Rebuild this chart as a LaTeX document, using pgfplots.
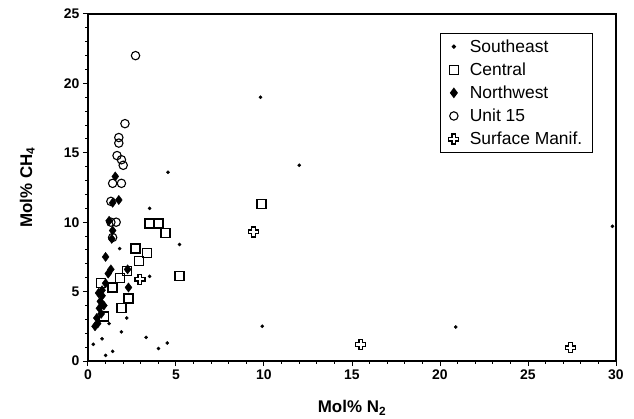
\documentclass[border=0pt]{standalone}
\usepackage{fontspec}
\setmainfont{Liberation Sans}
\usepackage{pgfplots}
\pgfplotsset{compat=1.18}

\pgfdeclareplotmark{oplus}{%
  \pgfpathmoveto{\pgfqpoint{-0.38\pgfplotmarksize}{\pgfplotmarksize}}%
  \pgfpathlineto{\pgfqpoint{0.38\pgfplotmarksize}{\pgfplotmarksize}}%
  \pgfpathlineto{\pgfqpoint{0.38\pgfplotmarksize}{0.38\pgfplotmarksize}}%
  \pgfpathlineto{\pgfqpoint{\pgfplotmarksize}{0.38\pgfplotmarksize}}%
  \pgfpathlineto{\pgfqpoint{\pgfplotmarksize}{-0.38\pgfplotmarksize}}%
  \pgfpathlineto{\pgfqpoint{0.38\pgfplotmarksize}{-0.38\pgfplotmarksize}}%
  \pgfpathlineto{\pgfqpoint{0.38\pgfplotmarksize}{-\pgfplotmarksize}}%
  \pgfpathlineto{\pgfqpoint{-0.38\pgfplotmarksize}{-\pgfplotmarksize}}%
  \pgfpathlineto{\pgfqpoint{-0.38\pgfplotmarksize}{-0.38\pgfplotmarksize}}%
  \pgfpathlineto{\pgfqpoint{-\pgfplotmarksize}{-0.38\pgfplotmarksize}}%
  \pgfpathlineto{\pgfqpoint{-\pgfplotmarksize}{0.38\pgfplotmarksize}}%
  \pgfpathlineto{\pgfqpoint{-0.38\pgfplotmarksize}{0.38\pgfplotmarksize}}%
  \pgfpathclose
  \pgfusepathqstroke
}

\begin{document}
\begin{tikzpicture}
\begin{axis}[
  scale only axis, width=528bp, height=347bp,
  xmin=0, xmax=30, ymin=0, ymax=25,
  xtick={0,5,...,30}, ytick={0,5,...,25},
  minor x tick num=4, minor y tick num=4,
  tick align=outside, xtick pos=bottom, ytick pos=left,
  major tick length=5bp, minor tick length=2.5bp,
  axis line style={line width=1.2bp},
  tick style={line width=1bp, black},
  /pgf/number format/assume math mode=true,
  xticklabel={\bfseries\pgfmathprintnumber{\tick}},
  yticklabel={\bfseries\pgfmathprintnumber{\tick}},
  ticklabel style={font=\fontsize{14}{16}\selectfont\bfseries},
  xlabel={Mol\% N\textsubscript{2}},
  ylabel={Mol\% CH\textsubscript{4}},
  label style={font=\fontsize{17}{20}\selectfont\bfseries},
  xlabel style={at={(axis description cs:0.5,0)}, yshift=-47bp, anchor=center},
  ylabel style={at={(axis description cs:-0.115,0.5)}, anchor=center},
  legend style={at={(0.956,0.945)}, anchor=north east, draw=black, line width=1bp,
    font=\fontsize{17.5}{20}\selectfont, row sep=5bp, inner xsep=8bp, inner ysep=4bp,
    /tikz/every odd column/.append style={column sep=9bp}},
  legend cell align=left,
]
% Southeast
\addplot[only marks, mark=*, mark size=1.6bp, black] coordinates {
(0.3,1.2) (0.8,1.6) (1.0,0.4) (1.4,0.7) (1.2,2.7) (1.9,2.1) (2.2,3.1) (1.8,8.1)
(3.3,1.7) (4.0,0.9) (4.5,1.3) (3.5,6.1) (3.5,11.0) (5.2,8.4) (4.55,13.6)
(9.8,19.0) (12.0,14.1) (9.9,2.5) (20.9,2.45) (29.8,9.7)
};
\addlegendentry{Southeast}
% Central
\addplot[only marks, mark=square, mark size=4.5bp, line width=1.3bp, black] coordinates {
(0.75,5.6) (1.4,5.3) (1.8,6.0) (2.2,6.5) (2.3,4.5) (1.9,3.8) (0.9,3.2)
(2.7,8.1) (3.35,7.8) (2.9,7.2) (3.5,9.9) (4.0,9.9) (4.4,9.2) (5.2,6.1) (9.85,11.3)
};
\addlegendentry{Central}
% Northwest
\addplot[only marks, mark=diamond*, mark size=4.6bp, black] coordinates {
(1.55,13.3) (1.75,11.6) (1.4,11.4) (1.2,10.1) (1.4,9.4) (1.35,8.8) (1.0,7.5)
(1.15,6.3) (1.3,6.6) (0.8,5.1) (0.8,4.7) (0.7,4.3) (0.65,3.8) (0.5,3.1)
(0.55,2.7) (0.4,2.5) (0.9,4.0) (0.75,3.4) (2.3,5.3) (2.25,6.6) (0.6,4.9) (1.0,5.6)
};
\addlegendentry{Northwest}
% Unit 15
\addplot[only marks, mark=o, mark size=4.2bp, line width=1.1bp, black] coordinates {
(2.7,22.0) (2.1,17.1) (1.75,16.1) (1.75,15.7) (1.65,14.8) (1.9,14.5) (2.0,14.1)
(1.4,12.8) (1.9,12.8) (1.3,11.5) (1.6,10.0) (1.3,10.0) (1.4,8.9)
};
\addlegendentry{Unit 15}
% Surface Manif.
\addplot[only marks, mark=oplus, mark size=5bp, line width=1.2bp, black] coordinates {
(2.95,5.9) (9.4,9.3) (15.5,1.2) (27.4,0.95)
};
\addlegendentry{Surface Manif.}
\end{axis}
\pgfresetboundingbox
\path[use as bounding box] ([xshift=-88bp,yshift=-58bp]current axis.south west) rectangle ([xshift=18bp,yshift=14bp]current axis.north east);
\end{tikzpicture}
\end{document}
